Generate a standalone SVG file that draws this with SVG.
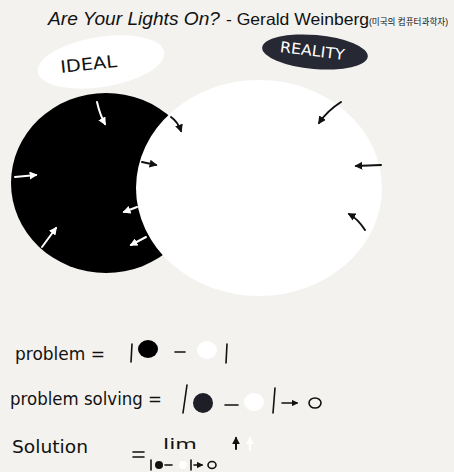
<svg xmlns="http://www.w3.org/2000/svg" width="454" height="472" viewBox="0 0 454 472">
<defs>
<style>
.hand{font-family:"DejaVu Sans","Liberation Sans",sans-serif;font-weight:normal;fill:#111}
.wl{stroke:#fff;stroke-width:2;fill:none;stroke-linecap:round}
.bl{stroke:#111;stroke-width:2;fill:none;stroke-linecap:round}
.pen{stroke:#111;stroke-width:1.6;fill:none;stroke-linecap:round}
</style>
<marker id="wh" viewBox="0 0 10 10" refX="8" refY="5" markerWidth="4" markerHeight="4" orient="auto"><path d="M0,0 L10,5 L0,10 z" fill="#fff"/></marker>
<marker id="bh" viewBox="0 0 10 10" refX="8" refY="5" markerWidth="4" markerHeight="4" orient="auto"><path d="M0,0 L10,5 L0,10 z" fill="#111"/></marker>
</defs>
<rect width="454" height="472" fill="#f3f2ef"/>
<g id="title">
<text x="48" y="25" font-family="Liberation Sans, Arial, sans-serif" font-size="18" font-style="italic" fill="#111" textLength="172" lengthAdjust="spacingAndGlyphs">Are Your Lights On?</text>
<text x="226" y="25" font-family="Liberation Sans, Arial, sans-serif" font-size="16.5" fill="#111" textLength="143" lengthAdjust="spacingAndGlyphs">- Gerald Weinberg</text>
<text x="369" y="25" font-family="Liberation Sans, 'Noto Sans CJK KR', sans-serif" font-size="8.8" fill="#111" textLength="79" lengthAdjust="spacingAndGlyphs">(미국의 컴퓨터과학자)</text>
</g>
<g id="ideal">
<ellipse cx="101" cy="62" rx="64" ry="25" transform="rotate(-9 101 62)" fill="#fff"/>
<text x="60" y="70" class="hand" font-size="17" textLength="57" lengthAdjust="spacingAndGlyphs" transform="rotate(-6 88 63)">IDEAL</text>
</g>
<g id="reality">
<ellipse cx="315" cy="52" rx="53" ry="17" transform="rotate(5 315 52)" fill="#262833"/>
<text x="280" y="56" class="hand" font-size="15" style="fill:#fff" textLength="65" lengthAdjust="spacingAndGlyphs" transform="rotate(7 313 50)">REALITY</text>
</g>
<g id="ideal-circle">
<ellipse cx="106" cy="183" rx="95" ry="90" fill="#000"/>
</g>
<g id="reality-circle">
<ellipse cx="259" cy="188" rx="123" ry="108" fill="#fff"/>
</g>
<g id="connectors">
<path class="wl" d="M97,102 Q100,115 105,124" marker-end="url(#wh)"/>
<path class="wl" d="M15,177 L36,175" marker-end="url(#wh)"/>
<path class="wl" d="M42,247 L56,228" marker-end="url(#wh)"/>
<path class="wl" d="M137,207 L124,212" marker-end="url(#wh)"/>
<path class="wl" d="M146,237 L131,245" marker-end="url(#wh)"/>
<path class="bl" d="M171,117 Q178,122 181,131" marker-end="url(#bh)"/>
<path class="bl" d="M142,162 L156,165" marker-end="url(#bh)"/>
<path class="bl" d="M341,102 Q327,111 319,123" marker-end="url(#bh)"/>
<path class="bl" d="M381,165 L356,166" marker-end="url(#bh)"/>
<path class="bl" d="M365,230 Q358,219 349,214" marker-end="url(#bh)"/>
</g>
<g id="formula-problem">
<text x="15" y="360" class="hand" font-size="17" textLength="90" lengthAdjust="spacingAndGlyphs">problem =</text>
<path class="pen" d="M132,344 L131,362"/>
<ellipse cx="148" cy="349" rx="10" ry="9" fill="#000"/>
<path class="pen" d="M175,352 L185,352"/>
<ellipse cx="207" cy="350" rx="10" ry="9" fill="#fff"/>
<path class="pen" d="M227,344 L226,363"/>
</g>
<g id="formula-solving">
<text x="10" y="405" class="hand" font-size="17" textLength="152" lengthAdjust="spacingAndGlyphs">problem solving =</text>
<path class="pen" d="M187,385 L183,413"/>
<ellipse cx="203" cy="403" rx="10" ry="10" fill="#1e1e26"/>
<path class="pen" d="M225,405 L238,405"/>
<ellipse cx="254" cy="402" rx="10" ry="9" fill="#fff"/>
<path class="pen" d="M275,388 L273,413"/>
<path class="pen" d="M282,403 L297,403" marker-end="url(#bh)"/>
<ellipse cx="315" cy="403" rx="6" ry="5" class="pen"/>
</g>
<g id="formula-solution">
<text x="12" y="453" class="hand" font-size="18" textLength="76" lengthAdjust="spacingAndGlyphs">Solution</text>
<path class="pen" d="M133,452 L144,452 M133,457 L144,457"/>
<text x="163" y="449" class="hand" font-size="14" textLength="34" lengthAdjust="spacingAndGlyphs">lim</text>
<path class="pen" d="M151,460 L151,470"/>
<circle cx="159" cy="465" r="4" fill="#111"/>
<path class="pen" d="M165,465 L172,465"/>
<circle cx="183" cy="465" r="4" fill="#fff"/>
<path class="pen" d="M191,460 L191,470"/>
<path class="pen" d="M194,465 L202,465" marker-end="url(#bh)"/>
<ellipse cx="212" cy="465" rx="4" ry="3.5" class="pen"/>
<path class="bl" d="M236,449 L236,438" marker-end="url(#bh)"/>
<path class="wl" d="M250,450 L250,438" marker-end="url(#wh)"/>
</g>
</svg>
